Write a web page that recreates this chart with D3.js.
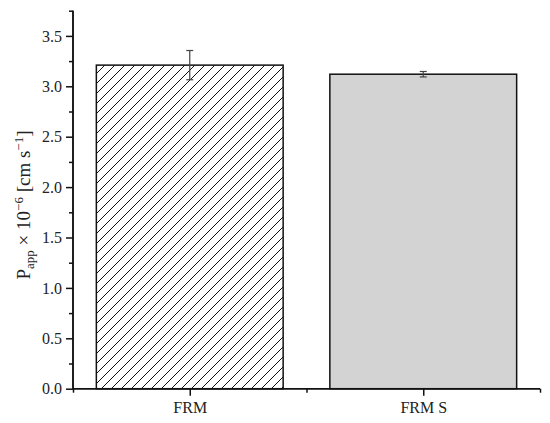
<!DOCTYPE html>
<html>
<head>
<meta charset="utf-8">
<script src="https://cdnjs.cloudflare.com/ajax/libs/d3/7.8.5/d3.min.js"></script>
<style>
  body { margin: 0; background: #fff; }
  svg text { font-family: "Palatino Linotype", "Book Antiqua", Palatino, "Liberation Serif", serif; fill: #222; }
</style>
</head>
<body>
<svg id="chart" width="550" height="423"></svg>
<script>
// data
var categories = ["FRM", "FRM S"];
var values = [3.21, 3.12];
var errors = [0.145, 0.027];
var yTicks = [0, 0.5, 1.0, 1.5, 2.0, 2.5, 3.0, 3.5];

var svg = d3.select("#chart");
var mLeft = 73, mRight = 540, mTop = 10.7, mBottom = 388.7;

var x = d3.scaleLinear().domain([0.5, 2.5]).range([mLeft, mRight]);
var y = d3.scaleLinear().domain([0, 3.75]).range([mBottom, mTop]);
var barW = x(1.3) - x(0.5);

// hatch pattern for the first bar
var defs = svg.append("defs");
var pat = defs.append("pattern")
    .attr("id", "hatch")
    .attr("patternUnits", "userSpaceOnUse")
    .attr("width", 10).attr("height", 10);
pat.append("rect").attr("width", 10).attr("height", 10).attr("fill", "#fff");
pat.append("path")
    .attr("d", "M0,10 L10,0 M-2,2 L2,-2 M8,12 L12,8")
    .attr("stroke", "#111").attr("stroke-width", 1);

var fills = ["url(#hatch)", "#d3d3d3"];

svg.selectAll("rect.bar")
    .data(values)
    .enter().append("rect")
    .attr("class", "bar")
    .attr("x", function(d, i) { return x(i + 1) - barW / 2; })
    .attr("y", function(d) { return y(d); })
    .attr("width", barW)
    .attr("height", function(d) { return y(0) - y(d); })
    .attr("fill", function(d, i) { return fills[i]; })
    .attr("stroke", "#111")
    .attr("stroke-width", 1.5);

// error bars
var eb = svg.selectAll("g.err")
    .data(values)
    .enter().append("g")
    .attr("class", "err")
    .attr("stroke", "#444")
    .attr("stroke-width", 1.2);
eb.append("line")
    .attr("x1", function(d, i) { return x(i + 1); })
    .attr("x2", function(d, i) { return x(i + 1); })
    .attr("y1", function(d, i) { return y(d + errors[i]); })
    .attr("y2", function(d, i) { return y(d - errors[i]); });
eb.append("line")
    .attr("x1", function(d, i) { return x(i + 1) - 3.5; })
    .attr("x2", function(d, i) { return x(i + 1) + 3.5; })
    .attr("y1", function(d, i) { return y(d + errors[i]); })
    .attr("y2", function(d, i) { return y(d + errors[i]); });
eb.append("line")
    .attr("x1", function(d, i) { return x(i + 1) - 3.5; })
    .attr("x2", function(d, i) { return x(i + 1) + 3.5; })
    .attr("y1", function(d, i) { return y(d - errors[i]); })
    .attr("y2", function(d, i) { return y(d - errors[i]); });

// y axis: major ticks with labels, minor ticks between
var yAxis = svg.append("g").attr("transform", "translate(" + mLeft + ",0)");
yAxis.call(d3.axisLeft(y).tickValues(yTicks).tickSize(7).tickPadding(4)
    .tickFormat(d3.format(".1f")));
yAxis.append("g").call(d3.axisLeft(y).tickValues(d3.range(0.25, 3.8, 0.5)).tickSize(4).tickFormat(""));

// x axis
var xAxis = svg.append("g").attr("transform", "translate(0," + mBottom + ")");
xAxis.call(d3.axisBottom(x).tickValues([1, 2]).tickSize(7).tickPadding(6)
    .tickFormat(function(d) { return categories[d - 1]; }));
xAxis.append("g").call(d3.axisBottom(x).tickValues([0.5, 1.5, 2.5]).tickSize(4).tickFormat(""));

svg.selectAll(".domain").attr("stroke", "#111").attr("stroke-width", 1.5);
svg.selectAll(".tick line").attr("stroke", "#111").attr("stroke-width", 1.5);
svg.selectAll(".tick text").attr("font-size", 16).attr("fill", "#222")
    .style("font-family", '"Palatino Linotype", "Book Antiqua", Palatino, "Liberation Serif", serif');
xAxis.selectAll(".domain").attr("d", "M" + mLeft + ",0H" + mRight);
yAxis.selectAll(".domain").attr("d", "M0," + mBottom + "V" + mTop);

// y axis title
var title = svg.append("text")
    .attr("transform", "translate(30,205) rotate(-90)")
    .attr("text-anchor", "middle")
    .attr("font-size", 19);
title.append("tspan").text("P");
title.append("tspan").attr("font-size", 13).attr("dy", 4).text("app");
title.append("tspan").attr("dy", -4).text(" × 10");
title.append("tspan").attr("font-size", 13).attr("dy", -7).text("−6");
title.append("tspan").attr("dy", 7).text(" [cm s");
title.append("tspan").attr("font-size", 13).attr("dy", -7).text("−1");
title.append("tspan").attr("dy", 7).text("]");
</script>
</body>
</html>
